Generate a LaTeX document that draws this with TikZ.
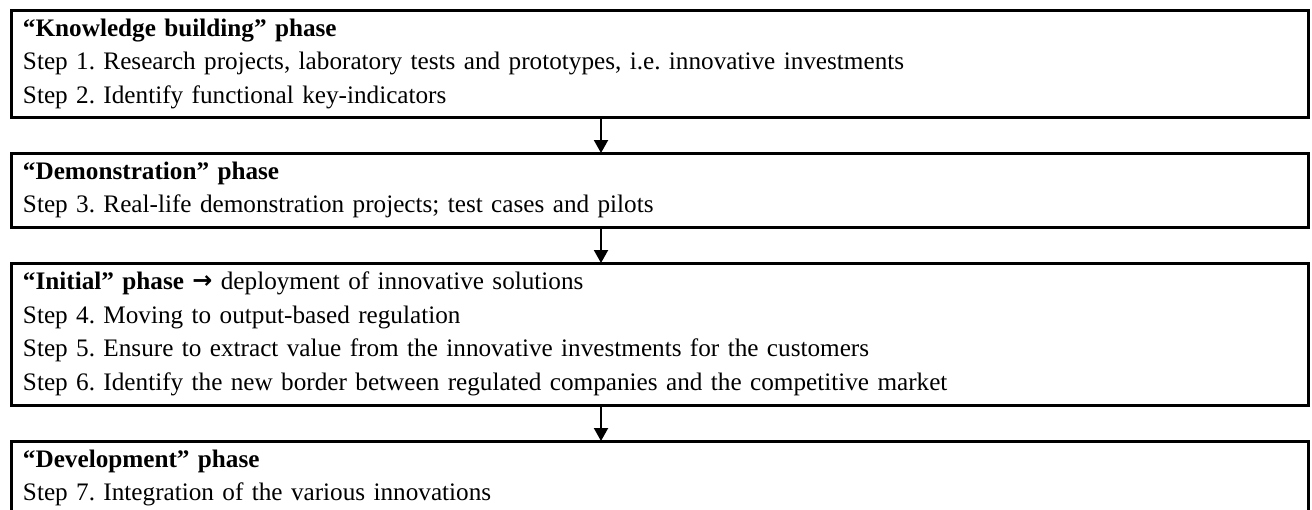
\documentclass[tikz,border=0pt]{standalone}
\usepackage{fontspec}
\setmainfont{Liberation Serif}
\newfontfamily\arrowfont{DejaVu Sans}[Scale=0.95]
\usetikzlibrary{arrows.meta}
\begin{document}
\frenchspacing
\begin{tikzpicture}[x=1pt,y=-1pt,
  phasebox/.style={draw, line width=3pt, anchor=north west, outer sep=0pt,
    minimum width=1297pt, text width=1273pt, inner xsep=12pt, inner ysep=0pt,
    align=left, font=\fontsize{25.2}{33.5}\selectfont},
  flow/.style={line width=2pt, -{Triangle[length=13pt,width=14pt]}}]
\useasboundingbox (0,0) rectangle (1312,509);
\clip (0,0) rectangle (1312,509);

% the four phases, top to bottom
\node[phasebox, minimum height=107pt] (kb) at (11,10)
  {\textbf{“Knowledge building” phase}\\
   Step 1. Research projects, laboratory tests and prototypes, i.e. innovative investments\\
   Step 2. Identify functional key-indicators};
\node[phasebox, minimum height=74pt] (demo) at (11,153)
  {\textbf{“Demonstration” phase}\\
   Step 3. Real-life demonstration projects; test cases and pilots};
\node[phasebox, minimum height=142pt] (init) at (11,263)
  {\textbf{“Initial” phase \raisebox{1pt}{\arrowfont →}} deployment of innovative solutions\\
   Step 4. Moving to output-based regulation\\
   Step 5. Ensure to extract value from the innovative investments for the customers\\
   Step 6. Identify the new border between regulated companies and the competitive market};
\node[phasebox, minimum height=74pt] (dev) at (11,441)
  {\textbf{“Development” phase}\\
   Step 7. Integration of the various innovations};

% arrows between consecutive phases
\coordinate (ax) at (601,0);
\draw[flow] (ax |- kb.south) -- (ax |- demo.north);
\draw[flow] (ax |- demo.south) -- (ax |- init.north);
\draw[flow] (ax |- init.south) -- (ax |- dev.north);
\end{tikzpicture}
\end{document}
